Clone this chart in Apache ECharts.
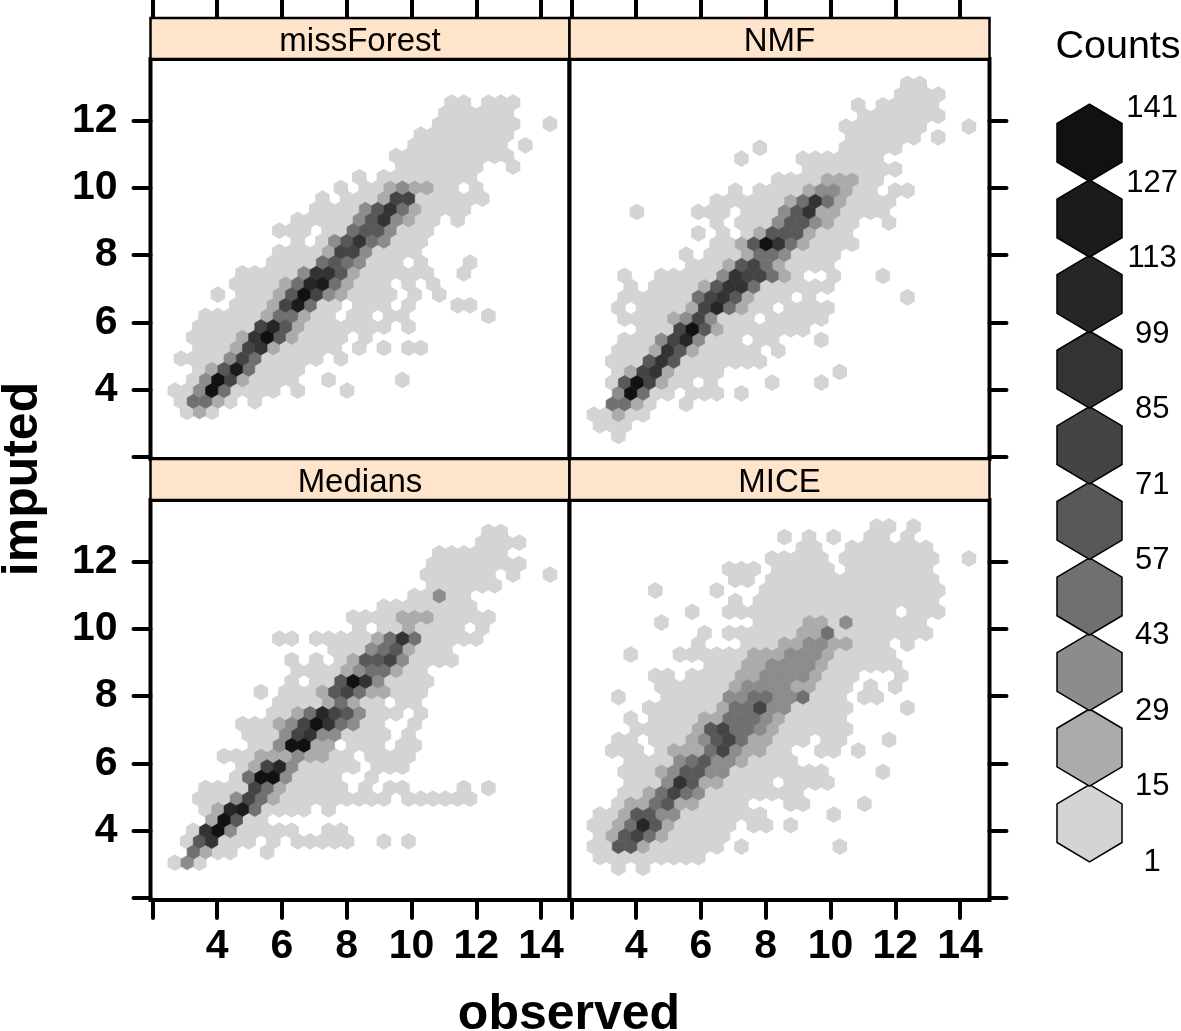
<!DOCTYPE html>
<html><head><meta charset="utf-8">
<style>html,body{margin:0;padding:0;background:#fff}#c{width:1181px;height:1031px}</style>
<script src="https://cdn.jsdelivr.net/npm/echarts@6/dist/echarts.min.js"></script>
</head><body><div id="c"></div>
<script>
// Hexagon rows, top to bottom. Token "a-b" = lightest cells in columns a..b, "c" = one cell,
// "c:levels" = darker cells starting at column c (level 1..9, a = 10).
const missForestRows = ["23-24 26-28","22-27","22-28 31","20-27","20-27 29","18-27","19-25 28","15 17-24",
"14 16-23 25 18:2322","12 14-25 17:266","12-24 16:35742","10-21 23 15:35732","9-11 13-21 15:4553","10 12-20 13:35743",
"9-20 13:2663","8-18 20 24 12:4543","6-21 24 11:37752","5-17 19 21 9:248942","4 6-18 20 22 9:25a632","5-13 15-17 19 23-24 8:2694",
"3-13 15-16 18-19 26 8:2442","2-17 19 7:6852","2-14 16 6:27a52","2-13 15 17 19-20 5:2672","1-12 14 5:364","2-10 3:2594",
"2-10 13 19 3:3a62","0-8 10 14 2:3a4","1-5 7 2:442","1-3 2:2"];
const nmfRows = ["26-27","25-28","22 24-28","22-28","21-27 31","21-26 28","14 21-25","12 17-23","18-25","15-23 19:222",
"12 14-23 25-26 18:2332","10-24 16:24742","4 9-11 13-24 16:35722","10 12-21 24 15:35532","9 11 13-21 14:25552","10-21 12:25a742",
"8 10-20 13:2443","8-19 11:25642","3 6-17 20 24 11:376642","3 5-19 9:25774","3-16 18 26 9:46752","2 4-14 16-19 8:26842",
"3-13 15-19 7:2363","4-17 7:6a52","3-12 14-15 19 6:3683","2-13 15 5:2752","2-14 5:575","2-10 20 3:2672","2-8 10 15 19 3:5a62",
"2-6 8-10 12 2:3a4","2-5 8 2:442","0-4 2:2","1-3","2"];
const mediansRows = ["26-27","25-28","22-27","21-28","21-26 28 31","21-26","20-24 22:3","17-24","15-26 19:222","15 17-23 25 19:2",
"9-10 12-25 17:2474","13-22 16:3452","10 12 14-23 15:25563","10-20 14:23442","10 12-21 14:5a73","7 9-20 12:256422","9-17 19-20 13:242",
"8-18 20 10:248653","6-17 20 9:236a743","6-17 19 9:36733","7-13 15-17 19-20 9:3aa22","4-14 16-19 7:222322","6-15 17-19 7:2683",
"5-13 16 6:4aa3","3-14 16 18-19 24 26 7:642","2-17 19-24 5:3642","3-11 13 4:2894","3-7 3:2a5","2-10 13-14 3:7a3",
"1-6 8 10-14 17 19 2:57","2-5 8 2:42","0-2 1:3"];
const miceRows = ["","23-24 26","16 18 20 23-24 26","17-18 21-27","15-19 21-28 31","11-13 15-19 21-27","12-13 15-28","5 10 14-28",
"12 14-28","8 11-24 26-28","6 14-27 18:22 21:3","9 11-27 17:224","9 13-24 26 16:223322","3 7-24 13:2223332","10-25 13:2233332",
"5-6 8-21 25 12:2233332","6-21 23 25 12:2333322","2 6-20 22-23 11:3344334","5-21 26 11:244633","3 5-20 9:2244432","4-21 9:2564432",
"2-3 5-17 19-20 24 8:2356422","2-4 6-16 19-20 22 7:22246322","3-16 7:345332","3-19 24 6:235533","3-14 16-19 6:37522","3-17 5:24643",
"2-12 16-17 22 3:224522","1-14 20 3:25533","0-11 13-14 16 2:24852","1-11 2:25642","0-10 12 20 2:552","1-9","2 4"];

const panelNames = ["missForest","NMF","Medians","MICE"];
const panelTopRowY = [12.525, 13.08, 12.87, 13.35];
const legendBreaks = [1,15,29,43,57,71,85,99,113,127,141];
const levelCounts = [8,22,36,50,64,78,92,106,120,134];
const palette = ["#d4d4d4","#ababab","#8c8c8c","#707070","#585858","#444444","#333333","#262626","#1b1b1b","#111111"];
const xTicks = [2,4,6,8,10,12,14];
const yTicks = [2,4,6,8,10,12];
const tickLabels = [4,6,8,10,12,14];
const yTickLabels = [4,6,8,10,12];
const firstColX = 2.505, colStep = 0.3796, rowStep = 0.3167;
const hexH = rowStep * 4 / 3;

function toCells(rows, topY){
  const out = [];
  rows.forEach((row, r) => {
    const cells = {};
    row.split(" ").filter(Boolean).forEach(t => {
      if (t.includes(":")) {
        const [c, lv] = t.split(":");
        [...lv].forEach((ch, i) => { cells[+c + i] = ch === "a" ? 10 : +ch; });
      } else if (t.includes("-")) {
        const [a, b] = t.split("-").map(Number);
        for (let c = a; c <= b; c++) if (!cells[c]) cells[c] = 1;
      } else cells[+t] = cells[+t] || 1;
    });
    Object.keys(cells).forEach(c => {
      out.push([firstColX + (+c + (r % 2 ? 0.5 : 0)) * colStep, topY - r * rowStep, levelCounts[cells[c] - 1]]);
    });
  });
  return out.sort((a, b) => a[2] - b[2]);
}
const panelCells = [missForestRows, nmfRows, mediansRows, miceRows].map((rows, i) => toCells(rows, panelTopRowY[i]));

function hexItem(w, h, stroke, lw){
  return function(params, api){
    const x = api.value(0), y = api.value(1), n = api.value(2);
    const pts = [[0,.5],[.5,.25],[.5,-.25],[0,-.5],[-.5,-.25],[-.5,.25]].map(p => api.coord([x + p[0]*w, y + p[1]*h]));
    const col = palette[Math.min(9, Math.floor((n - 1) / 14))];
    return {type:"polygon", shape:{points:pts}, style:{fill:col, stroke:stroke || col, lineWidth:stroke ? lw : (n < 15 ? 2.2 : 0.6), lineJoin:"miter"}};
  };
}

const P = [{l:150.5,t:59,w:419,h:400},{l:569.5,t:59,w:420,h:400},{l:150.5,t:500,w:419,h:400},{l:569.5,t:500,w:420,h:400}];
const xMin = 1.944, yMin = 1.945, yMax = 13.82, pxPerX = 32.4;
const tickStyle = {color:"#000", width:4, cap:"round"};
const numFont = {fontFamily:"Liberation Sans", fontWeight:"bold", fontSize:41, color:"#000"};

const grid = P.map(p => ({left:p.l, top:p.t, width:p.w, height:p.h, show:true, backgroundColor:"#fff", borderColor:"#000", borderWidth:4, containLabel:false}));
grid.push({left:1057, top:105, width:65, height:756, show:false});
grid.push({left:1057, top:108, width:65, height:754, show:false});

const xAxis = P.map((p, i) => ({
  type:"value", gridIndex:i, min:xMin, max:xMin + p.w / pxPerX,
  position: i < 2 ? "top" : "bottom", offset: i < 2 ? 41.5 : 0,
  axisLine:{show:false}, splitLine:{show:false},
  axisTick:{show:true, length:i < 2 ? 17 : 18, inside:false, customValues:xTicks, lineStyle:tickStyle},
  axisLabel: i < 2 ? {show:false} : Object.assign({show:true, margin:26, customValues:tickLabels, showMinLabel:true, showMaxLabel:true}, numFont)
}));
xAxis.push({type:"value", gridIndex:4, min:0, max:1, show:false});
xAxis.push({type:"value", gridIndex:5, min:0, max:1, show:false});

const yAxis = P.map((p, i) => ({
  type:"value", gridIndex:i, min:yMin, max:yMax,
  position: i % 2 ? "right" : "left",
  axisLine:{show:false}, splitLine:{show:false},
  axisTick:{show:true, length:17, customValues:yTicks, lineStyle:tickStyle},
  axisLabel: i % 2 ? {show:false} : Object.assign({show:true, margin:33, customValues:yTickLabels}, numFont)
}));
yAxis.push({type:"value", gridIndex:4, min:1, max:141, show:false});
yAxis.push({type:"value", gridIndex:5, min:1, max:141, position:"right",
  axisLine:{show:false}, splitLine:{show:false}, axisTick:{show:false},
  axisLabel:{show:true, margin:32, align:"center", customValues:legendBreaks, fontFamily:"Liberation Sans", fontSize:31, color:"#000"}});

const series = panelCells.map((d, i) => ({
  type:"custom", xAxisIndex:i, yAxisIndex:i, data:d, silent:true, clip:true, animation:false,
  renderItem:hexItem(colStep, hexH, null, 0.6), encode:{x:0, y:1}
}));
series.push({type:"custom", xAxisIndex:4, yAxisIndex:4, silent:true, animation:false, clip:false,
  data:levelCounts.map(c => [0.5, c, c]), renderItem:hexItem(1, 14.3, "#000", 1.5), encode:{x:0, y:1}});

const strips = [];
P.forEach((p, i) => {
  strips.push({type:"rect", shape:{x:p.l, y:p.t - 41, width:p.w, height:41}, z:1,
    style:{fill:"#ffe4cc", stroke:"#000", lineWidth:2.5}});
  strips.push({type:"text", x:p.l + p.w / 2, y:p.t - 17, z:2,
    style:{text:panelNames[i], fontFamily:"Liberation Sans", fontSize:33, fill:"#000", align:"center", verticalAlign:"middle"}});
});
const axisTitles = [
  {type:"text", x:569, y:1015, z:2, style:{text:"observed", fontFamily:"Liberation Sans", fontWeight:"bold", fontSize:50, fill:"#000", align:"center", verticalAlign:"middle"}},
  {type:"text", x:23, y:479, rotation:Math.PI / 2, z:2, style:{text:"imputed", fontFamily:"Liberation Sans", fontWeight:"bold", fontSize:50, fill:"#000", align:"center", verticalAlign:"middle"}},
  {type:"text", x:1118, y:47, z:2, style:{text:"Counts", fontFamily:"Liberation Sans", fontSize:39.5, fill:"#000", align:"center", verticalAlign:"middle"}}
];

const chart = echarts.init(document.getElementById("c"), null, {renderer:"canvas"});
chart.setOption({animation:false, backgroundColor:"#fff", grid, xAxis, yAxis, series, graphic:{elements:strips.concat(axisTitles)}});
</script></body></html>
